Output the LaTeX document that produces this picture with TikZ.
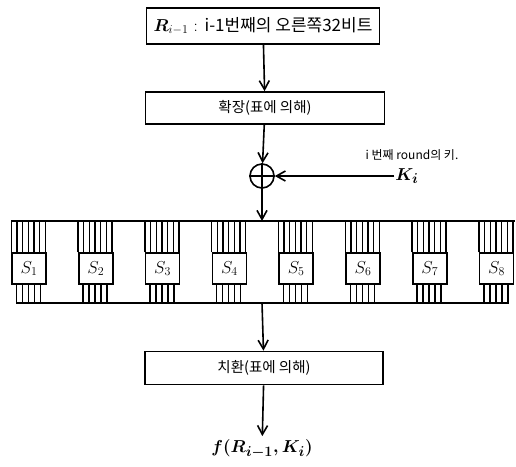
\documentclass[tikz,border=0pt]{standalone}
\usepackage{amsmath}
\usepackage{fontspec}
\newfontfamily\krfont{Noto Sans CJK KR}
\usetikzlibrary{arrows.meta,positioning,calc}
\newcommand\bigsize{\fontsize{17}{19}\selectfont}
\newcommand\midsize{\fontsize{14.5}{17}\selectfont}
\newcommand\smallsize{\fontsize{12}{14}\selectfont}

\begin{document}
\begin{tikzpicture}[x=1pt, y=-1pt,
    stage/.style={draw, line width=1.6pt, minimum height=32pt, font=\krfont\midsize},
    arrow/.style={-{Straight Barb[length=9pt, width=10pt]}, line width=1.6pt},
    sbox/.style={draw, line width=1.5pt, fill=white, minimum width=34pt, minimum height=31pt, inner sep=0pt, font=\fontsize{18}{20}\selectfont},
    wire/.style={line width=1.3pt}
]
\useasboundingbox (0,0) rectangle (516,466);

% Stages down the middle
\node[stage, minimum width=233pt, minimum height=36pt, font=\bigsize] (rin) at (263,26) {$\boldsymbol{R}_{i-1}$ : {\krfont i-1번째의 오른쪽32비트}};
\node[stage, minimum width=239pt] (expand) at (265,108) {확장(표에 의해)};
\node[draw, circle, line width=1.6pt, minimum size=24pt, inner sep=0pt] (xor) at (262,176) {};
\draw[line width=1.1pt] (xor.north) -- (xor.south) (xor.west) -- (xor.east);
\node[stage, minimum width=238pt, minimum height=33pt] (perm) at (264,368) {치환(표에 의해)};
\node[font=\fontsize{19}{21}\selectfont] (fout) at (262,449) {$\boldsymbol{f(R_{i-1}, K_i)}$};

% Round key
\node[font=\krfont\smallsize] (keytxt) at (412,155) {i 번째 round의 키.};
\node[font=\fontsize{19}{21}\selectfont, inner sep=1pt] (key) at (407,176) {$\boldsymbol{K_i}$};

% S-box band
\coordinate (bandin) at (262,221);
\coordinate (bandout) at (262,303);
\draw[line width=1.6pt] (12,221) -- (515,221);
\draw[line width=1.6pt] (17,303) -- (508,303);
\foreach \i in {1,...,8} {
  \node[sbox] (s\i) at ({29+(\i-1)*66.8},268.5) {$S_{\i}$};
  \foreach \k in {0,...,6}
    \draw[wire] ($(s\i.north west)+(\k*34/6,0)$) -- ++(0,-32);
  \foreach \k in {0,...,4}
    \draw[wire] ($(s\i.south west)+(5+\k*6,0)$) -- ++(0,19);
}

% Connectors
\draw[arrow] (rin) -- (expand);
\draw[arrow] (expand) -- (xor);
\draw[arrow] (key.west |- xor) -- (xor);
\draw[arrow] (xor) -- (bandin);
\draw[arrow] (bandout) -- (perm);
\draw[arrow] (perm) -- (fout);
\end{tikzpicture}
\end{document}
